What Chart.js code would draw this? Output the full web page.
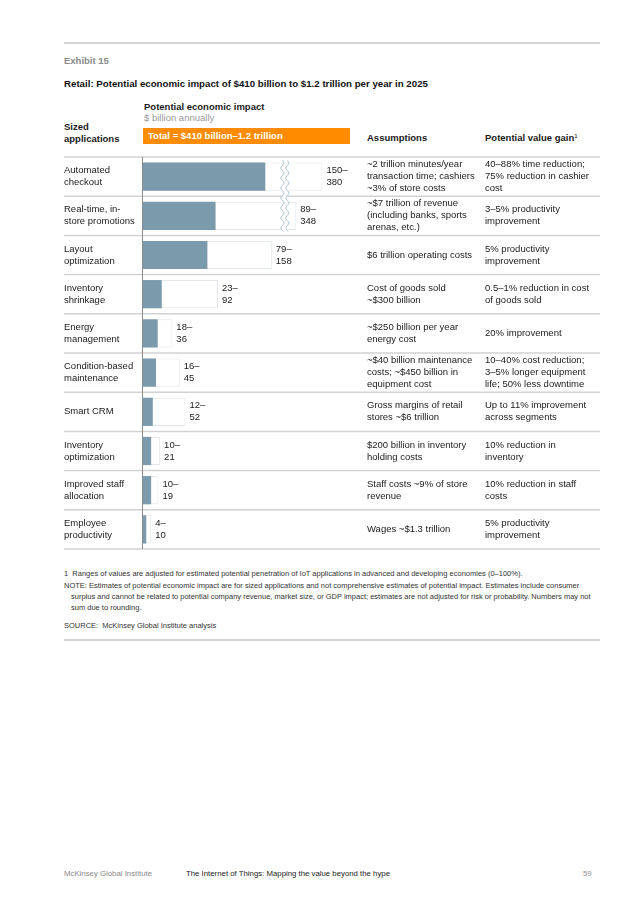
<!DOCTYPE html>
<html>
<head>
<meta charset="utf-8">
<script src="https://cdn.jsdelivr.net/npm/chart.js@4.4.1/dist/chart.umd.min.js"></script>
<style>
  body { margin: 0; background: #fff; font-family: "Liberation Sans", Arial, sans-serif; color: #1a1a1a; }
  #page { position: relative; width: 636px; height: 900px; overflow: hidden; }
  .t { position: absolute; white-space: nowrap; line-height: 12px; }
  .rule { position: absolute; left: 64px; width: 536px; height: 2px; background: #d3d3d3; }
  .b { font-weight: bold; }
  .hd { font-size: 9.5px; font-weight: bold; }
  .fn { font-size: 7.5px; color: #333; line-height: 11px; }
  .ft { font-size: 7.8px; }
  sup { font-size: 6px; font-weight: normal; line-height: 0; vertical-align: 3px; }
  #total { position: absolute; left: 143px; top: 128px; width: 207px; height: 16px; background: #ff8c00;
           color: #fff; font-weight: bold; font-size: 9.5px; line-height: 16px; padding-left: 5px; box-sizing: border-box; }
  #chart { position: absolute; left: 0; top: 145px; }
</style>
</head>
<body>
<div id="page">
  <div class="rule" style="top:42px"></div>
  <div class="t hd" style="left:64px; top:55px; color:#8a8a8a">Exhibit 15</div>
  <div class="t b" style="left:64px; top:78px; font-size:9.7px; color:#111">Retail: Potential economic impact of $410 billion to $1.2 trillion per year in 2025</div>

  <div class="t hd" style="left:144px; top:101px">Potential economic impact</div>
  <div class="t" style="left:144px; top:112px; font-size:9.5px; color:#9a9a9a">$ billion annually</div>
  <div class="t hd" style="left:64px; top:121px">Sized<br>applications</div>
  <div id="total">Total = $410 billion–1.2 trillion</div>
  <div class="t hd" style="left:367px; top:132px">Assumptions</div>
  <div class="t hd" style="left:485px; top:132px">Potential value gain<sup>1</sup></div>

  <canvas id="chart" width="636" height="416"></canvas>

  <div class="t fn" style="left:64px; top:568px">1&nbsp;&nbsp;Ranges of values are adjusted for estimated potential penetration of IoT applications in advanced and developing economies (0–100%).</div>
  <div class="t fn" style="left:64px; top:580px">NOTE: Estimates of potential economic impact are for sized applications and not comprehensive estimates of potential impact. Estimates include consumer</div>
  <div class="t fn" style="left:71px; top:591px">surplus and cannot be related to potential company revenue, market size, or GDP impact; estimates are not adjusted for risk or probability. Numbers may not</div>
  <div class="t fn" style="left:71px; top:602px">sum due to rounding.</div>
  <div class="t fn" style="left:64px; top:620px">SOURCE:&nbsp;&nbsp;McKinsey Global Institute analysis</div>
  <div class="rule" style="top:639px"></div>

  <div class="t ft" style="left:64px; top:868px; color:#8a8a8a">McKinsey Global Institute</div>
  <div class="t ft" style="left:186px; top:868px; color:#1a1a1a">The Internet of Things: Mapping the value beyond the hype</div>
  <div class="t ft" style="left:583px; top:868px; color:#8a8a8a">59</div>
</div>

<script>
// Sized applications (row labels)
const categories = [
    ['Automated', 'checkout'],
    ['Real-time, in-', 'store promotions'],
    ['Layout', 'optimization'],
    ['Inventory', 'shrinkage'],
    ['Energy', 'management'],
    ['Condition-based', 'maintenance'],
    'Smart CRM',
    ['Inventory', 'optimization'],
    ['Improved staff', 'allocation'],
    ['Employee', 'productivity']
];

// Potential economic impact, $ billion annually
const lows = [150, 89, 79, 23, 18, 16, 12, 10, 10, 4];
const highs = [380, 348, 158, 92, 36, 45, 52, 21, 19, 10];

const assumptions = [
    ['~2 trillion minutes/year', 'transaction time; cashiers', '~3% of store costs'],
    ['~$7 trillion of revenue', '(including banks, sports', 'arenas, etc.)'],
    ['$6 trillion operating costs'],
    ['Cost of goods sold', '~$300 billion'],
    ['~$250 billion per year', 'energy cost'],
    ['~$40 billion maintenance', 'costs; ~$450 billion in', 'equipment cost'],
    ['Gross margins of retail', 'stores ~$6 trillion'],
    ['$200 billion in inventory', 'holding costs'],
    ['Staff costs ~9% of store', 'revenue'],
    ['Wages ~$1.3 trillion']
];

const gains = [
    ['40–88% time reduction;', '75% reduction in cashier', 'cost'],
    ['3–5% productivity', 'improvement'],
    ['5% productivity', 'improvement'],
    ['0.5–1% reduction in cost', 'of goods sold'],
    ['20% improvement'],
    ['10–40% cost reduction;', '3–5% longer equipment', 'life; 50% less downtime'],
    ['Up to 11% improvement', 'across segments'],
    ['10% reduction in', 'inventory'],
    ['10% reduction in staff', 'costs'],
    ['5% productivity', 'improvement']
];

// broken axis: values between BREAK_FROM and BREAK_TO are cut out
const BREAK_FROM = 174;
const BREAK_TO = 334;
const brk = v => v > BREAK_TO ? v - (BREAK_TO - BREAK_FROM) : v;

const FONT = '"Liberation Sans", Arial, sans-serif';
const LH = 12;

function drawLines(ctx, lines, x, cy) {
    const y0 = cy - (lines.length - 1) * LH / 2;
    lines.forEach((s, k) => ctx.fillText(s, x, y0 + k * LH));
}

function wave(ctx, x, yTop, yBot) {
    ctx.beginPath();
    for (let yy = yTop; yy <= yBot; yy += 1) {
        const xx = x + 1.5 * Math.sin((yy - yTop) / 10 * Math.PI * 2);
        if (yy === yTop) ctx.moveTo(xx, yy); else ctx.lineTo(xx, yy);
    }
    ctx.stroke();
}

const tablePlugin = {
    id: 'table',
    beforeDatasetsDraw(chart) {
        const { ctx, chartArea } = chart;
        const n = categories.length;
        const rowH = (chartArea.bottom - chartArea.top) / n;
        ctx.save();
        ctx.strokeStyle = '#d2d2d2';
        ctx.lineWidth = 1.5;
        for (let i = 0; i <= n; i++) {
            const yy = chartArea.top + i * rowH;
            ctx.beginPath();
            ctx.moveTo(64, yy);
            ctx.lineTo(600, yy);
            ctx.stroke();
        }
        ctx.strokeStyle = '#8c8c8c';
        ctx.lineWidth = 1;
        ctx.beginPath();
        ctx.moveTo(chartArea.left - 0.5, chartArea.top);
        ctx.lineTo(chartArea.left - 0.5, chartArea.bottom);
        ctx.stroke();
        ctx.restore();
    },
    afterDatasetsDraw(chart) {
        const { ctx } = chart;
        const xs = chart.scales.x;
        const lowMeta = chart.getDatasetMeta(0);
        const highMeta = chart.getDatasetMeta(1);
        ctx.save();

        // break marks across the cut bars
        const cut = highs.map((v, i) => v > BREAK_TO ? i : -1).filter(i => i >= 0);
        if (cut.length) {
            const first = highMeta.data[cut[0]];
            const last = highMeta.data[cut[cut.length - 1]];
            const xb = xs.getPixelForValue(BREAK_FROM);
            const yTop = first.y - first.height / 2 - 2;
            const yBot = last.y + last.height / 2 + 2;
            ctx.fillStyle = '#fff';
            ctx.fillRect(xb - 2.5, yTop, 5, yBot - yTop);
            ctx.strokeStyle = '#9fbccc';
            ctx.lineWidth = 1;
            wave(ctx, xb - 2.5, yTop, yBot);
            wave(ctx, xb + 2.5, yTop, yBot);
        }

        // range labels
        ctx.fillStyle = '#1a1a1a';
        ctx.font = '9.5px ' + FONT;
        ctx.textAlign = 'left';
        ctx.textBaseline = 'middle';
        highMeta.data.forEach((bar, i) => {
            drawLines(ctx, [lows[i] + '–', String(highs[i])], bar.x + 4, bar.y);
        });

        // assumptions and value gain columns
        lowMeta.data.forEach((bar, i) => {
            drawLines(ctx, assumptions[i], 367, bar.y);
            drawLines(ctx, gains[i], 485, bar.y);
        });
        ctx.restore();
    }
};

new Chart(document.getElementById('chart'), {
    type: 'bar',
    data: {
        labels: categories,
        datasets: [
            {
                label: 'Low',
                data: lows.map(brk),
                backgroundColor: '#7b9aab',
                borderWidth: 0,
                order: 0
            },
            {
                label: 'High',
                data: highs.map(brk),
                backgroundColor: '#ffffff',
                borderColor: '#e2e7eb',
                borderWidth: 1,
                order: 1
            }
        ]
    },
    options: {
        indexAxis: 'y',
        responsive: false,
        animation: false,
        layout: { padding: { left: 64, right: 281, top: 2, bottom: 1 } },
        datasets: { bar: { grouped: false, categoryPercentage: 1, barPercentage: 0.72 } },
        plugins: { legend: { display: false }, tooltip: { enabled: false } },
        scales: {
            x: { min: 0, max: 260, display: false },
            y: {
                grid: { display: false },
                border: { display: false },
                ticks: {
                    crossAlign: 'far',
                    padding: 0,
                    color: '#1a1a1a',
                    font: { family: FONT, size: 9.5, lineHeight: LH / 9.5 }
                },
                afterFit(scale) { scale.width = 79; }
            }
        }
    },
    plugins: [tablePlugin]
});
</script>
</body>
</html>
